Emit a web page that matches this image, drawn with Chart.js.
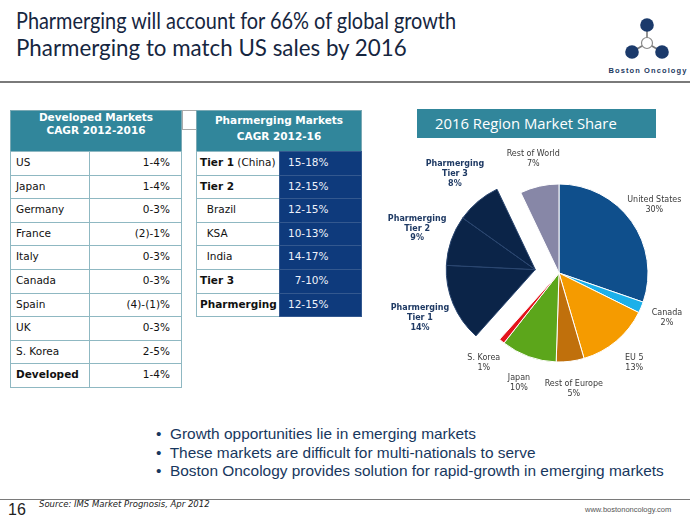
<!DOCTYPE html>
<html>
<head>
<meta charset="utf-8">
<script src="https://cdn.jsdelivr.net/npm/chart.js@4.4.1/dist/chart.umd.min.js"></script>
<style>
  body { margin: 0; width: 690px; height: 521px; position: relative; overflow: hidden; background: #fff; font-family: "DejaVu Sans", sans-serif; }
  .abs { position: absolute; }
  .line { white-space: nowrap; display: inline-block; transform-origin: 0 0; }
  #title { left: 16px; top: 6px; font-family: Lato, "Open Sans", sans-serif; font-size: 24px; line-height: 27px; color: #16263f; }
  .rule { left: 0; width: 690px; height: 0; border-top: 2px solid #7a7a7a; }
  .th { background: #31869b; color: #fff; font-weight: bold; font-size: 10.5px; text-align: center; box-sizing: border-box; border: 1px solid #7aa9b4; }
  .td { box-sizing: border-box; border: 1px solid #8fb8c2; font-size: 10.5px; color: #111; padding-top: 4px; white-space: nowrap; }
  .nv { background: #0e3a7c; color: #eef2fa; border-color: #33588f; }
  #boxTitle { left: 417px; top: 109px; width: 239px; height: 29px; background: #31869b; color: #fff; font-family: "Open Sans", sans-serif; font-size: 15px; line-height: 29px; }
  #bullets { left: 156px; top: 425px; font-family: "Liberation Sans", Arial, sans-serif; font-size: 15px; line-height: 18.5px; color: #17375e; }
</style>
</head>
<body>
<div id="title" class="abs">
  <div class="line" id="t1">Pharmerging will account for 66% of global growth</div><br>
  <div class="line" id="t2">Pharmerging to match US sales by 2016</div>
</div>

<svg class="abs" style="left:600px;top:10px" width="90" height="70">
  <g stroke="#7a7a7a" stroke-width="1.6">
    <line x1="47" y1="15" x2="47" y2="33"/>
    <line x1="47" y1="33" x2="32" y2="42"/>
    <line x1="47" y1="33" x2="62" y2="42"/>
  </g>
  <circle cx="47" cy="15" r="6.8" fill="#1b3a6b"/>
  <circle cx="32" cy="42" r="6.8" fill="#1b3a6b"/>
  <circle cx="62" cy="42" r="6.8" fill="#1b3a6b"/>
  <circle cx="47" cy="33" r="5.5" fill="#fff" stroke="#8a8a8a" stroke-width="1.2"/>
  <text x="48" y="63" text-anchor="middle" font-family="Liberation Sans, Arial" font-weight="bold" font-size="7.5" letter-spacing="1.1" fill="#1e3a5f">Boston Oncology</text>
</svg>
<div class="abs rule" style="top:81px"></div>

<div id="tables"></div>

<div id="boxTitle" class="abs"><span class="line" id="bt" style="margin-left:18px">2016 Region Market Share</span></div>
<canvas id="pie" class="abs" style="left:362px;top:140px" width="328" height="270"></canvas>

<div id="bullets" class="abs">
  <div id="bwrap" class="line">
    <div>•&nbsp; Growth opportunities lie in emerging markets</div>
    <div>•&nbsp; These markets are difficult for multi-nationals to serve</div>
    <div>•&nbsp; Boston Oncology provides solution for rapid-growth in emerging markets</div>
  </div>
</div>

<div class="abs rule" style="top:499px;border-top-width:1.5px"></div>
<div class="abs" style="left:8px;top:501px;font-family:'Liberation Sans',Arial;font-size:16px;color:#222">16</div>
<div class="abs" style="left:39px;top:499px;font-size:8.5px;font-style:italic;color:#222">Source: IMS Market Prognosis, Apr 2012</div>
<div class="abs" style="left:585px;top:505px;font-family:'Liberation Sans',Arial;font-size:7.5px;color:#555">www.bostononcology.com</div>

<script>
// table data
const devMarkets = ['US', 'Japan', 'Germany', 'France', 'Italy', 'Canada', 'Spain', 'UK', 'S. Korea', 'Developed'];
const devCagr = ['1-4%', '1-4%', '0-3%', '(2)-1%', '0-3%', '0-3%', '(4)-(1)%', '0-3%', '2-5%', '1-4%'];
const pharmMarkets = ['<b>Tier 1</b> (China)', '<b>Tier 2</b>', '&nbsp; Brazil', '&nbsp; KSA', '&nbsp; India', '<b>Tier 3</b>', '<b>Pharmerging</b>'];
const pharmCagr = ['15-18%', '12-15%', '12-15%', '10-13%', '14-17%', '&nbsp; 7-10%', '12-15%'];

// pie data
const regions = ['United States', 'Canada', 'EU 5', 'Rest of Europe', 'Japan', 'S. Korea',
  'Pharmerging Tier 1', 'Pharmerging Tier 2', 'Pharmerging Tier 3', 'Rest of World'];
const share2016 = [30, 2, 13, 5, 10, 1, 14, 9, 8, 7];
const regionColors = ['#0f4f8c', '#1cb0ea', '#f59b00', '#c0700c', '#5ca61b', '#e3141c',
  '#0b2448', '#0b2448', '#0b2448', '#8787a7'];

function box(x, y, w, h, cls, html, style) {
  const d = document.createElement('div');
  d.className = 'abs ' + cls;
  d.style.cssText = `left:${x}px;top:${y}px;width:${w}px;height:${h}px;` + (style || '');
  d.innerHTML = html;
  document.getElementById('tables').appendChild(d);
}

const rowH = 23.6;
box(10, 110, 172, 42, 'th', 'Developed Markets<br>CAGR 2012-2016', 'line-height:12.5px');
devMarkets.forEach((m, i) => {
  const y = 151 + i * rowH;
  box(10, y, 80, rowH + 1, 'td', m, 'padding-left:5px;' + (m === 'Developed' ? 'font-weight:bold' : ''));
  box(89, y, 93, rowH + 1, 'td', devCagr[i], 'text-align:right;padding-right:11px');
});

box(182, 110, 15, 20, 'td', '', 'border-color:#aaa');
box(196, 110, 166, 42, 'th', 'Pharmerging Markets<br>CAGR 2012-16', 'padding-top:1px;line-height:16px');
pharmMarkets.forEach((m, i) => {
  const y = 151 + i * rowH;
  box(196, y, 84, rowH + 1, 'td', m, 'padding-left:3px');
  box(279, y, 83, rowH + 1, 'td nv', pharmCagr[i], 'padding-left:8px');
});

function fit(id, w) {
  const el = document.getElementById(id);
  el.style.transform = `scaleX(${w / el.offsetWidth})`;
}
fit('t1', 440);
fit('t2', 391);
fit('bt', 182);
fit('bwrap', 508);

const isTier = l => l.startsWith('Pharmerging');

// push the three Pharmerging slices out together
const explode = {
  id: 'explode',
  afterUpdate(chart) {
    const arcs = chart.getDatasetMeta(0).data.filter((a, i) => isTier(regions[i]));
    const mid = (arcs[0].startAngle + arcs[arcs.length - 1].endAngle) / 2;
    arcs.forEach(a => {
      a.x += Math.cos(mid) * 24;
      a.y += Math.sin(mid) * 24;
    });
  }
};

const outLabels = {
  id: 'outLabels',
  afterDatasetsDraw(chart) {
    const ctx = chart.ctx;
    chart.getDatasetMeta(0).data.forEach((arc, i) => {
      const label = regions[i];
      const lines = isTier(label) ? ['Pharmerging', label.slice(12)] : [label];
      lines.push(share2016[i] + '%');
      const mid = (arc.startAngle + arc.endAngle) / 2;
      const r = arc.outerRadius + 12 + lines.length * 8;
      const x = arc.x + Math.cos(mid) * r;
      const y = arc.y + Math.sin(mid) * r;
      ctx.save();
      ctx.font = (isTier(label) ? 'bold ' : '') + '8px "DejaVu Sans"';
      ctx.fillStyle = isTier(label) ? '#1f3a64' : '#3a3a3a';
      ctx.textAlign = 'center';
      ctx.textBaseline = 'middle';
      lines.forEach((t, k) => ctx.fillText(t, x, y + (k - (lines.length - 1) / 2) * 9.6));
      ctx.restore();
    });
  }
};

new Chart(document.getElementById('pie'), {
  type: 'pie',
  data: {
    labels: regions,
    datasets: [{
      data: share2016,
      backgroundColor: regionColors,
      borderColor: regions.map(l => isTier(l) ? '#2a4670' : '#ffffff'),
      borderWidth: 1,
      radius: 89
    }]
  },
  options: {
    responsive: false,
    animation: false,
    devicePixelRatio: 1,
    layout: { padding: { left: 66, right: 0, top: 0, bottom: 4 } },
    plugins: { legend: { display: false }, tooltip: { enabled: false } }
  },
  plugins: [explode, outLabels]
});
</script>
</body>
</html>
